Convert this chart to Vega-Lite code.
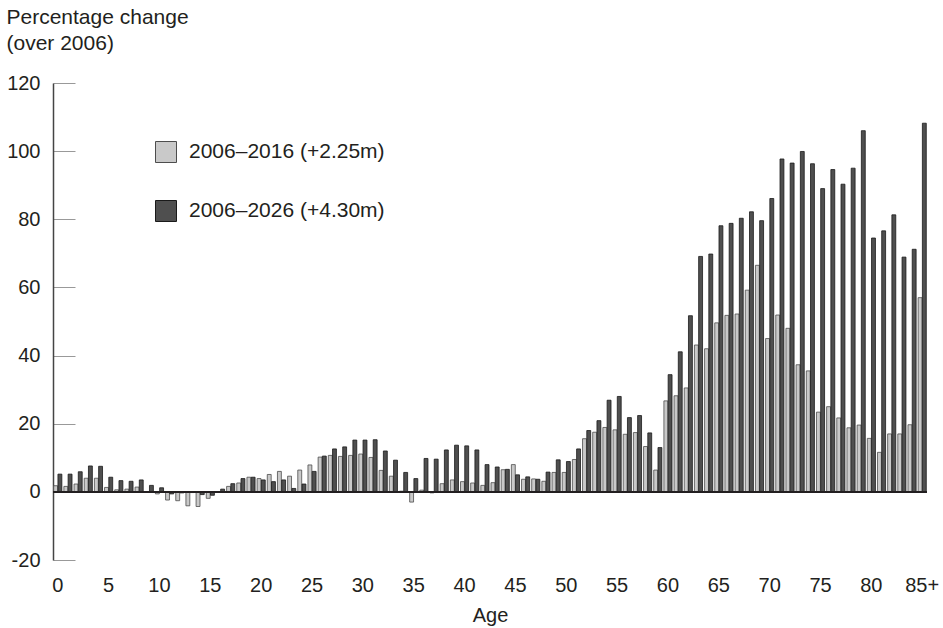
{
  "$schema": "https://vega.github.io/schema/vega-lite/v6.json",
  "autosize": "none",
  "width": 874,
  "height": 477,
  "padding": {"left": 53, "top": 83, "right": 16, "bottom": 68},
  "background": "white",
  "config": {
    "font": "Liberation Sans",
    "view": {"stroke": null},
    "axis": {"labelColor": "#231f20", "titleColor": "#231f20", "labelFont": "Liberation Sans", "titleFont": "Liberation Sans", "grid": false}
  },
  "data": {
    "values": [
      {"age":"0","a":1.8,"b":5.2},{"age":"1","a":1.6,"b":5.2},{"age":"2","a":2.3,"b":5.9},{"age":"3","a":4.0,"b":7.6},{"age":"4","a":4.0,"b":7.5},
      {"age":"5","a":1.3,"b":4.3},{"age":"6","a":0.6,"b":3.3},{"age":"7","a":0.8,"b":3.1},{"age":"8","a":1.4,"b":3.5},{"age":"9","a":0.1,"b":1.9},
      {"age":"10","a":-0.6,"b":1.2},{"age":"11","a":-2.4,"b":-0.6},{"age":"12","a":-2.6,"b":-0.3},{"age":"13","a":-4.1,"b":-0.2},{"age":"14","a":-4.3,"b":-0.8},
      {"age":"15","a":-1.9,"b":-1.0},{"age":"16","a":0.1,"b":0.8},{"age":"17","a":1.6,"b":2.4},{"age":"18","a":2.6,"b":3.9},{"age":"19","a":4.3,"b":4.3},
      {"age":"20","a":3.9,"b":3.5},{"age":"21","a":5.1,"b":3.0},{"age":"22","a":6.0,"b":3.5},{"age":"23","a":4.6,"b":1.0},{"age":"24","a":6.4,"b":2.3},
      {"age":"25","a":7.9,"b":6.0},{"age":"26","a":10.2,"b":10.5},{"age":"27","a":10.7,"b":12.6},{"age":"28","a":10.4,"b":13.2},{"age":"29","a":10.7,"b":15.2},
      {"age":"30","a":11.1,"b":15.2},{"age":"31","a":10.1,"b":15.3},{"age":"32","a":6.3,"b":12.0},{"age":"33","a":4.6,"b":9.3},{"age":"34","a":0.2,"b":5.7},
      {"age":"35","a":-3.0,"b":3.9},{"age":"36","a":0.5,"b":9.8},{"age":"37","a":-0.3,"b":9.6},{"age":"38","a":2.4,"b":12.3},{"age":"39","a":3.5,"b":13.7},
      {"age":"40","a":3.0,"b":13.5},{"age":"41","a":2.6,"b":12.3},{"age":"42","a":1.9,"b":8.0},{"age":"43","a":2.7,"b":7.3},{"age":"44","a":6.5,"b":6.6},
      {"age":"45","a":8.0,"b":5.0},{"age":"46","a":3.7,"b":4.4},{"age":"47","a":3.8,"b":3.7},{"age":"48","a":3.1,"b":5.8},{"age":"49","a":5.7,"b":9.4},
      {"age":"50","a":5.7,"b":8.9},{"age":"51","a":9.5,"b":12.6},{"age":"52","a":15.6,"b":18.0},{"age":"53","a":17.5,"b":20.9},{"age":"54","a":18.9,"b":26.9},
      {"age":"55","a":18.2,"b":28.0},{"age":"56","a":16.9,"b":21.8},{"age":"57","a":17.4,"b":22.4},{"age":"58","a":13.3,"b":17.3},{"age":"59","a":6.4,"b":13.0},
      {"age":"60","a":26.7,"b":34.4},{"age":"61","a":28.2,"b":41.1},{"age":"62","a":30.5,"b":51.7},{"age":"63","a":43.1,"b":69.1},{"age":"64","a":42.0,"b":69.8},
      {"age":"65","a":49.6,"b":78.1},{"age":"66","a":51.8,"b":78.8},{"age":"67","a":52.2,"b":80.3},{"age":"68","a":59.2,"b":82.2},{"age":"69","a":66.5,"b":79.6},
      {"age":"70","a":45.0,"b":86.1},{"age":"71","a":51.9,"b":97.7},{"age":"72","a":48.0,"b":96.5},{"age":"73","a":37.3,"b":99.9},{"age":"74","a":35.5,"b":96.3},
      {"age":"75","a":23.4,"b":89.0},{"age":"76","a":25.0,"b":94.6},{"age":"77","a":21.7,"b":90.3},{"age":"78","a":18.8,"b":95.0},{"age":"79","a":19.6,"b":106.0},
      {"age":"80","a":15.7,"b":74.5},{"age":"81","a":11.6,"b":76.6},{"age":"82","a":17.0,"b":81.3},{"age":"83","a":17.0,"b":68.9},{"age":"84","a":19.7,"b":71.2},
      {"age":"85+","a":57.0,"b":108.2}
    ]
  },
  "transform": [{"fold": ["a", "b"], "as": ["period", "value"]}],
  "layer": [
    {
      "mark": {"type": "bar", "strokeWidth": 0.8},
      "encoding": {
        "x": {
          "field": "age", "type": "nominal", "sort": null,
          "scale": {"paddingInner": 0.2, "paddingOuter": 0.07},
          "axis": {
            "values": ["0","5","10","15","20","25","30","35","40","45","50","55","60","65","70","75","80","85+"],
            "labelAngle": 0, "labelFontSize": 20, "labelPadding": 15,
            "domain": false, "ticks": false,
            "title": "Age", "titleFontSize": 20, "titleFontWeight": "normal", "titlePadding": 10
          }
        },
        "xOffset": {"field": "period", "type": "nominal", "scale": {"paddingInner": 0.08}},
        "y": {
          "field": "value", "type": "quantitative",
          "scale": {"domain": [-20, 120], "nice": false, "zero": false},
          "axis": {
            "values": [-20, 0, 20, 40, 60, 80, 100, 120],
            "labelExpr": "'' + datum.value",
            "labelFontSize": 20, "tickSize": -22, "labelPadding": 35,
            "tickColor": "#999999", "tickWidth": 1,
            "domainColor": "#444444", "domainWidth": 1.5,
            "title": ["Percentage change", "(over 2006)"],
            "titleAngle": 0, "titleAlign": "left", "titleBaseline": "alphabetic",
            "titleX": -47, "titleY": -60, "titleFontSize": 21, "titleFontWeight": "normal", "titleLineHeight": 26
          }
        },
        "color": {
          "field": "period", "type": "nominal",
          "scale": {"domain": ["a", "b"], "range": ["#c9c9c9", "#4f4f4f"]},
          "legend": {
            "title": null, "orient": "none", "legendX": 102, "legendY": 58,
            "symbolType": "square", "symbolSize": 441, "symbolStrokeWidth": 1,
            "labelFontSize": 21, "labelColor": "#231f20", "labelOffset": 12, "rowPadding": 33, "labelLimit": 0,
            "labelExpr": "datum.label == 'a' ? '2006–2016 (+2.25m)' : '2006–2026 (+4.30m)'",
            "encode": {"symbols": {"update": {
              "fill": {"signal": "datum.value == 'b' ? '#231f20' : '#c9c9c9'"},
              "stroke": {"signal": "datum.value == 'b' ? '#231f20' : '#555555'"},
              "opacity": {"value": 1}
            }}}
          }
        },
        "stroke": {
          "field": "period", "type": "nominal",
          "scale": {"domain": ["a", "b"], "range": ["#4d4d4d", "#1a1a1a"]},
          "legend": null
        }
      }
    },
    {
      "mark": {"type": "rule", "color": "#231f20", "strokeWidth": 1.5},
      "encoding": {"y": {"datum": 0}}
    }
  ]
}
